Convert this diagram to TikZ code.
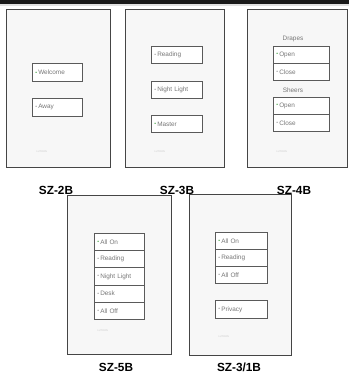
\documentclass[tikz,border=0pt]{standalone}
\usepackage{fontspec}
\setmainfont{Liberation Sans}
\definecolor{plateborder}{HTML}{454545}
\definecolor{platefill}{HTML}{F7F7F7}
\definecolor{btnborder}{HTML}{5A5A5A}
\definecolor{btntext}{HTML}{777777}
\definecolor{dotgreen}{HTML}{3FA03F}
\definecolor{dotgray}{HTML}{9A9A9A}
\definecolor{logo}{HTML}{C8C8C8}
\newcommand\gdot{{\color{dotgreen}\raisebox{0.6pt}{\fontsize{5}{5}\selectfont\textbullet}}\,}
\newcommand\ndot{{\color{dotgray}\raisebox{0.6pt}{\fontsize{5}{5}\selectfont\textbullet}}\,}
\tikzset{
  plate/.style={draw=plateborder, line width=1.3pt, fill=platefill, anchor=north west, inner sep=0pt},
  btn/.style={draw=btnborder, line width=0.9pt, fill=white, anchor=north west, inner xsep=3pt, inner ysep=0pt,
    font=\fontsize{6.4}{7}\selectfont, text=btntext, align=left},
  caplabel/.style={font=\fontsize{11.8}{13}\selectfont\bfseries, text=black},
  grp/.style={font=\fontsize{6.4}{7}\selectfont, text=btntext},
  logotxt/.style={font=\fontsize{2.5}{3}\selectfont, text=logo, anchor=west}
}
\begin{document}
\begin{tikzpicture}[x=1pt,y=-1pt]
\useasboundingbox (0,0) rectangle (349,373);
\fill[black!90] (0,0) rectangle (349,4);
\fill[black!12] (0,4) rectangle (349,5.5);
% Plate 1 SZ-2B
\node[plate, minimum width=104pt, minimum height=158pt] (p1) at (6,9) {};
\node[btn, minimum height=18pt, text width=44pt] (p1a) at (32,63) {\gdot Welcome};
\node[btn, minimum height=18pt, text width=44pt] (p1b) at (32,98) {\ndot Away};
\node[logotxt] (p1l) at (33,152) {LUTRON};
\node[caplabel] (c1) at (56,190) {SZ-2B};
% Plate 2 SZ-3B
\node[plate, minimum width=99pt, minimum height=158pt] (p2) at (125,9) {};
\node[btn, minimum height=17pt, text width=45pt] (p2a) at (151,46) {\ndot Reading};
\node[btn, minimum height=17pt, text width=45pt] (p2b) at (151,81) {\ndot Night Light};
\node[btn, minimum height=17pt, text width=45pt] (p2c) at (151,115) {\gdot Master};
\node[logotxt] (p2l) at (151,152) {LUTRON};
\node[caplabel] (c2) at (177,190) {SZ-3B};
% Plate 3 SZ-4B
\node[plate, minimum width=100pt, minimum height=158pt] (p3) at (247,9) {};
\node[grp] (g3a) at (293,39) {Drapes};
\node[btn, minimum height=17pt, text width=50pt] (p3a) at (273,46) {\gdot Open};
\node[btn, minimum height=17pt, text width=50pt] (p3b) at (273,63) {\ndot Close};
\node[grp] (g3b) at (293,90) {Sheers};
\node[btn, minimum height=17pt, text width=50pt] (p3c) at (273,97) {\gdot Open};
\node[btn, minimum height=17pt, text width=50pt] (p3d) at (273,114) {\ndot Close};
\node[logotxt] (p3l) at (273,152) {LUTRON};
\node[caplabel] (c3) at (294,190) {SZ-4B};
% Plate 4 SZ-5B
\node[plate, minimum width=104pt, minimum height=159pt] (p4) at (67,195) {};
\node[btn, minimum height=17.2pt, text width=44pt] (p4a) at (94,233) {\gdot All On};
\node[btn, minimum height=17.2pt, text width=44pt] (p4b) at (94,250.2) {\ndot Reading};
\node[btn, minimum height=17.2pt, text width=44pt] (p4c) at (94,267.4) {\ndot Night Light};
\node[btn, minimum height=17.2pt, text width=44pt] (p4d) at (94,284.6) {\ndot Desk};
\node[btn, minimum height=17.2pt, text width=44pt] (p4e) at (94,301.8) {\ndot All Off};
\node[logotxt] (p4l) at (94,331) {LUTRON};
\node[caplabel] (c4) at (116,367) {SZ-5B};
% Plate 5 SZ-3/1B
\node[plate, minimum width=102pt, minimum height=161pt] (p5) at (189,194) {};
\node[btn, minimum height=17pt, text width=46pt] (p5a) at (215,232) {\gdot All On};
\node[btn, minimum height=17pt, text width=46pt] (p5b) at (215,249) {\ndot Reading};
\node[btn, minimum height=17pt, text width=46pt] (p5c) at (215,266) {\ndot All Off};
\node[btn, minimum height=18pt, text width=46pt] (p5d) at (215,300) {\ndot Privacy};
\node[logotxt] (p5l) at (215,337) {LUTRON};
\node[caplabel] (c5) at (239,367) {SZ-3/1B};
\end{tikzpicture}
\end{document}
